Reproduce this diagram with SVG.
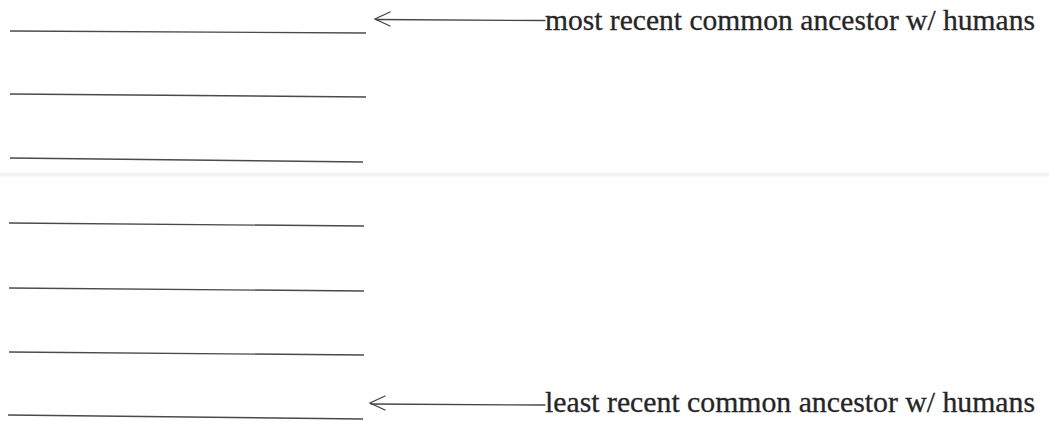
<svg xmlns="http://www.w3.org/2000/svg" width="1049" height="422" viewBox="0 0 1049 422">
  <style>
    .blank { stroke: #4a4a4a; stroke-width: 1.4; fill: none; }
    .pointer { stroke: #444; stroke-width: 1.3; fill: none; stroke-linecap: round; }
    .label { font-family: "Liberation Serif", "Times New Roman", serif; font-size: 30px; fill: #262626; stroke: #262626; stroke-width: 0.3; }
  </style>
  <defs>
    <linearGradient id="seam" x1="0" y1="0" x2="0" y2="1">
      <stop offset="0" stop-color="#f3f3f3" stop-opacity="0"/>
      <stop offset="0.5" stop-color="#eeeeee" stop-opacity="1"/>
      <stop offset="1" stop-color="#f3f3f3" stop-opacity="0"/>
    </linearGradient>
  </defs>
  <rect width="1049" height="422" fill="#ffffff"/>
  <!-- faint scan seam -->
  <rect x="0" y="171" width="1049" height="7" fill="url(#seam)"/>

  <!-- answer blanks -->
  <g id="blank-1"><line class="blank" x1="10" y1="31" x2="366" y2="33"/></g>
  <g id="blank-2"><line class="blank" x1="10" y1="94" x2="366" y2="97"/></g>
  <g id="blank-3"><line class="blank" x1="10" y1="158" x2="363" y2="162"/></g>
  <g id="blank-4"><line class="blank" x1="9" y1="223" x2="364" y2="226"/></g>
  <g id="blank-5"><line class="blank" x1="9" y1="288" x2="364" y2="291"/></g>
  <g id="blank-6"><line class="blank" x1="9" y1="352" x2="364" y2="355"/></g>
  <g id="blank-7"><line class="blank" x1="8" y1="415" x2="363" y2="419"/></g>

  <!-- labels -->
  <g id="label-most">
    <text class="label" x="545" y="30" textLength="490" lengthAdjust="spacingAndGlyphs">most recent common ancestor w/ humans</text>
  </g>
  <g id="label-least">
    <text class="label" x="545" y="412" textLength="490" lengthAdjust="spacingAndGlyphs">least recent common ancestor w/ humans</text>
  </g>

  <!-- pointers -->
  <g id="connectors">
    <path class="pointer" d="M390,12 L375,19 L390,26"/>
    <line class="pointer" x1="376" y1="19.5" x2="545" y2="20.5"/>
    <path class="pointer" d="M385,396 L370,403 L385,410"/>
    <line class="pointer" x1="371" y1="404" x2="545" y2="405"/>
  </g>
</svg>
